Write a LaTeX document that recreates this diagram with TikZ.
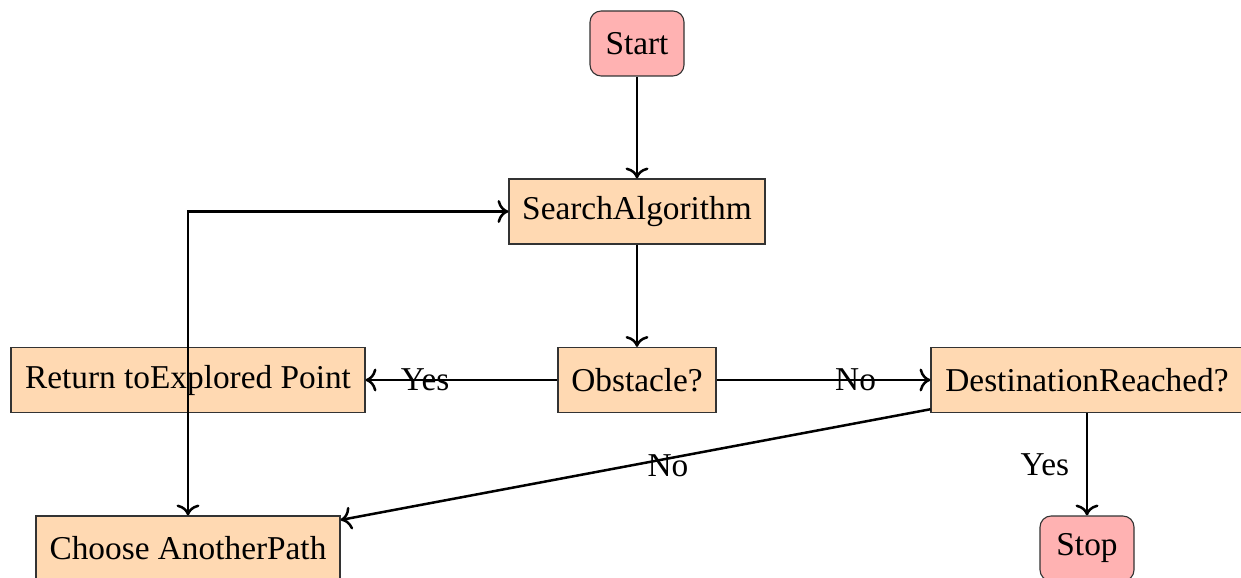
\documentclass[tikz,border=0pt]{standalone}
\usepackage{fontspec}
\setmainfont{Liberation Serif}
\usetikzlibrary{arrows.meta}
\begin{document}
\begin{tikzpicture}[x=0.36pt,y=-0.36pt,
  font=\fontsize{12}{14}\selectfont,
  every node/.style={inner sep=0pt},
  process/.style={draw=black!80,line width=0.4pt,fill=orange!30,minimum height=23.4pt,align=center},
  terminal/.style={process,fill=red!30,rounded corners=4pt},
  flow/.style={-{To[scale=1.1]},line width=0.9pt},
  lbl/.style={inner sep=2pt}]
\useasboundingbox (0,0) rectangle (1241,578);

% nodes
\node[terminal,minimum width=33.84pt] (start) at (637,43.5) {Start};
\node[process,minimum width=92.16pt] (search) at (637,211.5) {SearchAlgorithm};
\node[process,minimum width=56.88pt] (obst) at (637,380) {Obstacle?};
\node[process,minimum width=127.44pt] (ret) at (188,380) {Return toExplored Point};
\node[process,minimum width=112.32pt] (dest) at (1087,380) {DestinationReached?};
\node[process,minimum width=109.44pt] (choose) at (188,548.5) {Choose AnotherPath};
\node[terminal,minimum width=33.84pt] (stop) at (1087,548.5) {Stop};

% connectors
\draw[flow] (start) -- (search);
\draw[flow] (search) -- (obst);
\draw[flow] (obst) -- node[lbl,pos=0.69] {Yes} (ret);
\draw[flow] (obst) -- node[lbl,pos=0.65] {No} (dest);
\draw[flow] (dest) -- node[lbl,pos=0.445,yshift=-2.5pt] {No} (choose);
\draw[flow] (dest) -- node[lbl,left=4pt] {Yes} (stop);
\draw[flow] (ret) -- (choose);
\draw[flow] (choose) |- (search);
\end{tikzpicture}
\end{document}
